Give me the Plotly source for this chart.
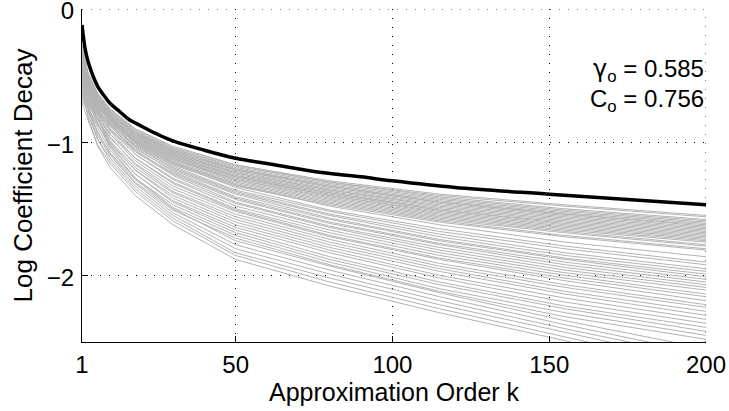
import plotly.graph_objects as go

# ---- data ----
k_gray = [1, 3, 6, 10, 18, 30, 50, 80, 115, 155, 200]

group_a = [
    [-0.27, -0.48, -0.63, -0.75, -0.90, -1.03, -1.17, -1.29, -1.39, -1.47, -1.55],
    [-0.42, -0.52, -0.64, -0.76, -0.90, -1.04, -1.17, -1.30, -1.40, -1.48, -1.56],
    [-0.32, -0.50, -0.65, -0.76, -0.91, -1.05, -1.18, -1.30, -1.41, -1.50, -1.58],
    [-0.50, -0.58, -0.68, -0.77, -0.92, -1.05, -1.19, -1.31, -1.42, -1.51, -1.59],
    [-0.37, -0.52, -0.66, -0.77, -0.92, -1.06, -1.20, -1.32, -1.43, -1.52, -1.60],
    [-0.48, -0.57, -0.67, -0.78, -0.93, -1.06, -1.20, -1.33, -1.44, -1.53, -1.61],
    [-0.30, -0.49, -0.64, -0.78, -0.93, -1.07, -1.21, -1.33, -1.45, -1.54, -1.62],
    [-0.45, -0.55, -0.67, -0.79, -0.94, -1.07, -1.21, -1.34, -1.45, -1.54, -1.63],
    [-0.52, -0.60, -0.70, -0.79, -0.94, -1.08, -1.22, -1.35, -1.46, -1.55, -1.64],
    [-0.34, -0.51, -0.66, -0.79, -0.94, -1.08, -1.23, -1.36, -1.47, -1.56, -1.65],
    [-0.52, -0.58, -0.69, -0.80, -0.95, -1.09, -1.23, -1.36, -1.48, -1.57, -1.66],
    [-0.40, -0.54, -0.67, -0.80, -0.95, -1.09, -1.24, -1.37, -1.49, -1.58, -1.67],
    [-0.55, -0.63, -0.72, -0.81, -0.96, -1.10, -1.25, -1.38, -1.50, -1.59, -1.68],
    [-0.47, -0.56, -0.68, -0.81, -0.96, -1.10, -1.25, -1.38, -1.51, -1.60, -1.69],
    [-0.32, -0.50, -0.66, -0.81, -0.97, -1.11, -1.26, -1.39, -1.51, -1.61, -1.70],
    [-0.50, -0.59, -0.71, -0.82, -0.97, -1.11, -1.26, -1.40, -1.52, -1.62, -1.71],
    [-0.42, -0.55, -0.68, -0.82, -0.98, -1.12, -1.27, -1.40, -1.53, -1.63, -1.72],
    [-0.54, -0.60, -0.71, -0.83, -0.98, -1.12, -1.28, -1.41, -1.54, -1.64, -1.73],
    [-0.37, -0.53, -0.68, -0.83, -0.99, -1.13, -1.28, -1.42, -1.55, -1.65, -1.74],
    [-0.53, -0.62, -0.73, -0.84, -0.99, -1.13, -1.29, -1.43, -1.56, -1.66, -1.75],
    [-0.48, -0.58, -0.71, -0.85, -1.00, -1.14, -1.30, -1.44, -1.57, -1.67, -1.77],
    [-0.40, -0.56, -0.70, -0.85, -1.01, -1.15, -1.31, -1.45, -1.58, -1.68, -1.78],
    [-0.58, -0.66, -0.76, -0.87, -1.02, -1.16, -1.32, -1.46, -1.59, -1.70, -1.80],
    [-0.44, -0.57, -0.71, -0.87, -1.03, -1.17, -1.33, -1.47, -1.60, -1.71, -1.81],
]

group_b = [
    [-0.35, -0.55, -0.70, -0.82, -0.99, -1.15, -1.32, -1.48, -1.62, -1.75, -1.86],
    [-0.48, -0.62, -0.74, -0.84, -1.00, -1.16, -1.34, -1.51, -1.65, -1.78, -1.90],
    [-0.30, -0.53, -0.70, -0.83, -1.01, -1.18, -1.36, -1.52, -1.67, -1.80, -1.92],
    [-0.58, -0.67, -0.77, -0.87, -1.03, -1.19, -1.37, -1.54, -1.69, -1.83, -1.95],
    [-0.40, -0.58, -0.72, -0.85, -1.03, -1.20, -1.38, -1.55, -1.71, -1.85, -1.97],
    [-0.52, -0.64, -0.76, -0.88, -1.05, -1.21, -1.39, -1.57, -1.73, -1.87, -1.99],
    [-0.33, -0.56, -0.72, -0.86, -1.04, -1.22, -1.41, -1.58, -1.74, -1.88, -2.01],
    [-0.62, -0.70, -0.79, -0.90, -1.07, -1.23, -1.42, -1.60, -1.76, -1.90, -2.03],
    [-0.45, -0.61, -0.75, -0.88, -1.06, -1.24, -1.43, -1.61, -1.77, -1.92, -2.05],
    [-0.38, -0.59, -0.74, -0.88, -1.07, -1.25, -1.45, -1.63, -1.79, -1.94, -2.07],
    [-0.55, -0.66, -0.78, -0.91, -1.09, -1.27, -1.46, -1.64, -1.81, -1.96, -2.09],
    [-0.42, -0.61, -0.76, -0.90, -1.09, -1.28, -1.48, -1.66, -1.83, -1.98, -2.11],
    [-0.65, -0.72, -0.82, -0.94, -1.12, -1.30, -1.50, -1.68, -1.85, -2.00, -2.14],
    [-0.36, -0.60, -0.77, -0.92, -1.12, -1.31, -1.51, -1.70, -1.87, -2.02, -2.16],
]

group_c = [
    [-0.44, -0.63, -0.79, -0.94, -1.14, -1.33, -1.52, -1.71, -1.88, -2.04, -2.19],
    [-0.60, -0.70, -0.83, -0.97, -1.16, -1.35, -1.54, -1.73, -1.91, -2.07, -2.22],
    [-0.38, -0.62, -0.80, -0.96, -1.17, -1.37, -1.56, -1.75, -1.93, -2.09, -2.24],
    [-0.50, -0.67, -0.83, -0.99, -1.19, -1.38, -1.58, -1.77, -1.95, -2.12, -2.27],
    [-0.66, -0.75, -0.87, -1.01, -1.21, -1.40, -1.60, -1.79, -1.97, -2.14, -2.30],
    [-0.42, -0.65, -0.83, -1.00, -1.21, -1.42, -1.62, -1.81, -2.00, -2.17, -2.33],
    [-0.56, -0.71, -0.86, -1.03, -1.24, -1.44, -1.64, -1.83, -2.02, -2.20, -2.36],
    [-0.34, -0.63, -0.83, -1.02, -1.24, -1.45, -1.66, -1.86, -2.05, -2.23, -2.39],
    [-0.62, -0.74, -0.89, -1.06, -1.27, -1.47, -1.68, -1.88, -2.07, -2.25, -2.42],
    [-0.47, -0.68, -0.86, -1.04, -1.27, -1.49, -1.70, -1.90, -2.10, -2.28, -2.45],
    [-0.68, -0.78, -0.92, -1.09, -1.30, -1.51, -1.72, -1.92, -2.12, -2.31, -2.48],
]

group_d = [
    [-0.55, -0.75, -0.93, -1.08, -1.28, -1.50, -1.74, -1.93, -2.13, -2.34, -2.55],
    [-0.40, -0.72, -0.95, -1.10, -1.31, -1.53, -1.77, -1.96, -2.16, -2.37, -2.59],
    [-0.64, -0.80, -0.98, -1.12, -1.33, -1.55, -1.80, -1.99, -2.19, -2.40, -2.62],
    [-0.48, -0.76, -0.98, -1.14, -1.35, -1.57, -1.83, -2.02, -2.22, -2.43, -2.66],
    [-0.70, -0.84, -1.02, -1.16, -1.37, -1.59, -1.85, -2.05, -2.25, -2.46, -2.70],
    [-0.58, -0.82, -1.03, -1.19, -1.40, -1.62, -1.88, -2.08, -2.28, -2.49, -2.74],
]

k_bound = [1, 2, 3, 4, 5, 6, 8, 10, 13, 16, 20, 25, 30, 40, 50, 60, 75, 90, 100, 120, 150, 175, 200]
bound_vals = [-0.12, -0.30, -0.40, -0.47, -0.53, -0.58, -0.65, -0.71, -0.77, -0.83, -0.88, -0.94,
              -0.99, -1.06, -1.12, -1.16, -1.22, -1.26, -1.29, -1.34, -1.39, -1.43, -1.47]

x_ticks = [1, 50, 100, 150, 200]
y_ticks = [0, -1, -2]
x_range = [1, 200]
y_range = [-2.5, 0]
gamma_text = "<span style='font-family:DejaVu Sans'>γ</span><sub>o</sub> = 0.585"
c_text = "C<sub>o</sub> = 0.756"

FONT = "Liberation Sans, Arial, Helvetica, sans-serif"
GRAY = "#b3b3b3"
GRID_DASH = "1px,8px"

fig = go.Figure()
for curve in group_a + group_b + group_c + group_d:
    fig.add_trace(go.Scatter(x=k_gray, y=curve, mode="lines",
                             line=dict(color=GRAY, width=1), hoverinfo="skip",
                             showlegend=False))
fig.add_trace(go.Scatter(x=k_bound, y=bound_vals, mode="lines",
                         line=dict(color="black", width=3.5, shape="spline"),
                         showlegend=False))

axis_common = dict(
    showline=True, linecolor="black", linewidth=1,
    ticks="inside", ticklen=6, tickcolor="black", tickwidth=1,
    showgrid=True, gridcolor="black", gridwidth=1, griddash=GRID_DASH,
    zeroline=False, tickfont=dict(family=FONT, size=24, color="black"),
    mirror=False, automargin=False, ticklabeloverflow="allow",
)

fig.update_layout(
    width=729, height=411,
    margin=dict(l=82, r=23, t=9, b=69, autoexpand=False),
    paper_bgcolor="white", plot_bgcolor="white",
    font=dict(family=FONT, size=24, color="black"),
    xaxis=dict(range=x_range, tickvals=x_ticks, ticklabelstandoff=1, **axis_common),
    yaxis=dict(range=y_range, tickvals=y_ticks, ticklabelstandoff=2,
               ticklabelshift=2, **axis_common),
    shapes=[
        dict(type="line", xref="x", yref="y", x0=x_range[0], x1=x_range[1],
             y0=y_range[1], y1=y_range[1], layer="below",
             line=dict(color="black", width=1, dash=GRID_DASH)),
        dict(type="line", xref="x", yref="y", x0=x_range[1], x1=x_range[1],
             y0=y_range[0], y1=y_range[1], layer="below",
             line=dict(color="black", width=1, dash=GRID_DASH)),
    ],
    annotations=[
        dict(text=gamma_text, x=1, y=0.814, xref="paper", yref="paper",
             xanchor="right", yanchor="middle", showarrow=False,
             font=dict(family=FONT, size=24, color="black")),
        dict(text=c_text, x=1, y=0.724, xref="paper", yref="paper",
             xanchor="right", yanchor="middle", showarrow=False,
             font=dict(family=FONT, size=24, color="black")),
        dict(text="Approximation Order k", x=0.5, y=-0.150, xref="paper", yref="paper",
             xanchor="center", yanchor="middle", showarrow=False,
             font=dict(family=FONT, size=25, color="black")),
        dict(text="Log Coefficient Decay", x=-0.0946, y=0.5, xref="paper", yref="paper",
             xanchor="center", yanchor="middle", showarrow=False, textangle=-90,
             font=dict(family=FONT, size=26, color="black")),
    ],
)

fig.write_html("out.html")
